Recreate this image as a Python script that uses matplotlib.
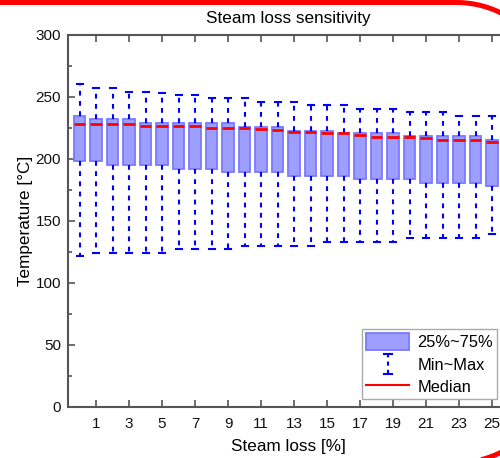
import matplotlib
matplotlib.use("Agg")
import numpy as np
import matplotlib.pyplot as plt
from matplotlib.patches import Rectangle
from matplotlib.lines import Line2D
from matplotlib.legend_handler import HandlerBase
from matplotlib.transforms import IdentityTransform

plt.rcParams['font.family'] = ['Liberation Sans', 'DejaVu Sans']

# steam loss [%] and temperature statistics
steam_loss = list(range(26))
t_max = [260.5, 257, 257, 254.3, 254.3, 253.5, 251.9, 251.9, 248.9, 248.9, 248.9, 246, 246,
         246, 243.5, 243.5, 243.5, 240.3, 240.3, 240.3, 237.6, 237.6, 237.6, 235, 235, 235]
t_q3 = [234.7, 232, 232, 232, 229.3, 229.3, 229.3, 229.3, 229.3, 229.3, 226, 226, 226,
        222.8, 222.8, 222.8, 221.2, 220.7, 220.7, 220.7, 218.5, 218.5, 218.5, 218.5, 218.5, 215.3]
t_med = [228, 228, 228, 228, 226.6, 226.6, 226.6, 226.6, 225.3, 225.3, 225.3, 224, 223.4,
         222, 222, 220.7, 220.7, 219.4, 218, 218, 218, 216.7, 215.3, 215.3, 215.3, 214]
t_q1 = [198.6, 198.4, 195, 195, 195, 195, 192.2, 192.2, 192.2, 189.2, 189.2, 189.2, 189.8,
        186.6, 186.6, 186.6, 186.6, 183.9, 183.9, 183.9, 183.9, 180.9, 180.9, 180.9, 180.9, 178.5]
t_min = [121.8, 124.5, 124.5, 124.5, 124.5, 124.5, 127.2, 127.2, 127.2, 127.2, 130.1, 130.1, 130.1,
         130.1, 130.1, 132.8, 132.8, 132.8, 132.8, 132.8, 136, 136, 136, 136, 136, 139.2]
x_ticks = list(range(1, 26, 2))

box_face = (0.62, 0.62, 1.0)
box_edge = (0.48, 0.48, 1.0)
dash = (0, (2.3, 2.6))

W, H = 500, 458
fig = plt.figure(figsize=(W / 100, H / 100), dpi=100)
ax = fig.add_axes([68 / W, 51 / H, 440.6 / W, 372 / H])

stats = []
for lo, q1, med, q3, hi in zip(t_min, t_q1, t_med, t_q3, t_max):
    stats.append({'whislo': lo, 'q1': q1, 'med': med, 'q3': q3, 'whishi': hi})

ax.bxp(stats, positions=steam_loss, widths=0.68, capwidths=0.36, patch_artist=True,
       showfliers=False,
       boxprops=dict(facecolor=box_face, edgecolor=box_edge, linewidth=1.3),
       whiskerprops=dict(color='blue', linewidth=1.5, linestyle=dash),
       capprops=dict(color='blue', linewidth=1.5),
       medianprops=dict(color='red', linewidth=2.0))

ax.set_xlim(-0.7, 26.0)
ax.set_ylim(0, 300)
ax.set_xticks(x_ticks)
ax.set_xticklabels([str(v) for v in x_ticks])
ax.set_yticks(range(0, 301, 50))
ax.set_yticks(range(25, 300, 50), minor=True)
ax.tick_params(axis='both', which='both', direction='in', top=True, colors='#555555',
               labelcolor='#111111', labelsize=11)
ax.tick_params(axis='x', which='major', pad=7)
ax.tick_params(axis='y', which='major', pad=5)
ax.tick_params(which='major', length=5, width=1.2)
ax.tick_params(which='minor', length=3, width=1.2)
for s in ax.spines.values():
    s.set_color('#555555')
    s.set_linewidth(1.5)

ax.set_title('Steam loss sensitivity', fontsize=12.3, pad=9)
ax.set_xlabel('Steam loss [%]', fontsize=12.3, labelpad=6)
ax.set_ylabel('Temperature [°C]', fontsize=12.3, labelpad=2)


class MinMaxHandler(HandlerBase):
    def create_artists(self, legend, orig_handle, xdescent, ydescent, width, height,
                       fontsize, trans):
        cx = width / 2 - xdescent
        top = height * 1.1 - ydescent
        bot = -height * 0.1 - ydescent
        cap = 3.0
        arts = [
            Line2D([cx, cx], [bot, top], color='blue', lw=1.5, linestyle=(0, (2.0, 2.0))),
            Line2D([cx - cap, cx + cap], [top, top], color='blue', lw=1.5),
            Line2D([cx - cap, cx + cap], [bot, bot], color='blue', lw=1.5),
        ]
        for a in arts:
            a.set_transform(trans)
        return arts


h_box = Rectangle((0, 0), 1, 1, facecolor=box_face, edgecolor=box_edge, linewidth=1.3)
h_minmax = object()
h_med = Line2D([], [], color='red', linewidth=1.5)
leg = ax.legend([h_box, h_minmax, h_med], ['25%~75%', 'Min~Max', 'Median'],
                handler_map={object: MinMaxHandler()},
                loc='lower right', bbox_to_anchor=(497 / W, 59 / H),
                bbox_transform=fig.transFigure, fontsize=11.8, fancybox=False,
                edgecolor='#aaaaaa', framealpha=1, handlelength=2.6, handleheight=1.25,
                handletextpad=0.5, borderpad=0.25, labelspacing=0.3, borderaxespad=0)
leg.get_frame().set_linewidth(1.0)

# red rounded frame around the screenshot, in pixels (y measured from top)
r = 100
cx = 456.4
top_y, bot_y = 2.5, 462.8
a1 = np.linspace(np.pi / 2, 0, 40)
a2 = np.linspace(0, -np.pi / 2, 40)
fx = np.concatenate([[-50], cx + r * np.cos(a1), cx + r * np.cos(a2), [-50]])
fy = np.concatenate([[top_y], (top_y + r) - r * np.sin(a1),
                     (bot_y - r) - r * np.sin(a2), [bot_y]])
frame = Line2D(fx, H - fy, color='red', linewidth=3.6, transform=IdentityTransform(),
               solid_joinstyle='round')
fig.add_artist(frame)

fig.savefig('out.png', dpi=100)
